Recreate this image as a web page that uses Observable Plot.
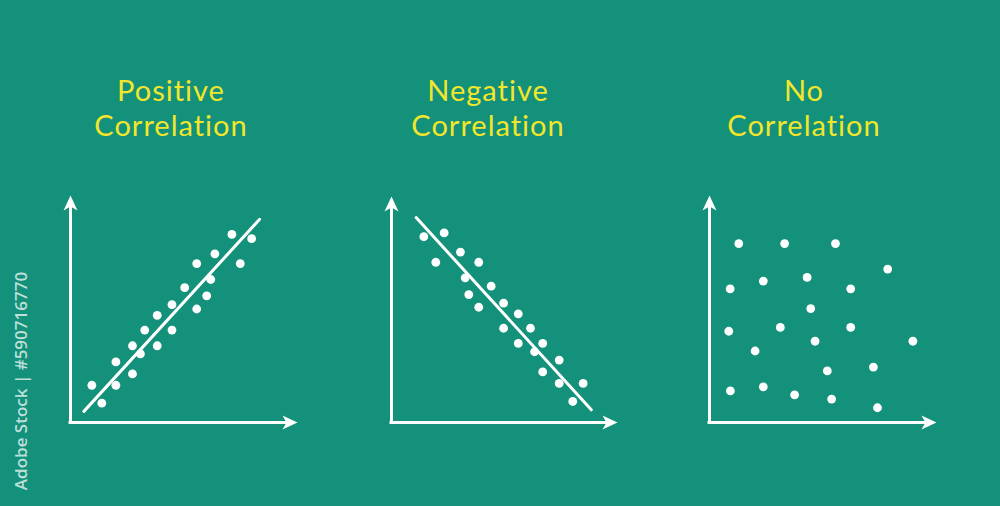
<!DOCTYPE html>
<html>
<head>
<meta charset="utf-8">
<script src="https://cdn.jsdelivr.net/npm/d3@7"></script>
<script src="https://cdn.jsdelivr.net/npm/@observablehq/plot@0.6"></script>
<style>
  html, body { margin: 0; padding: 0; background: #13917a; }
  #wrap { position: relative; width: 1000px; height: 506px; background: #13917a; overflow: hidden; font-family: "Open Sans", sans-serif; }
  .title { position: absolute; top: 72px; transform: translateX(-50%); color: #f2e62b; font-family: Lato, sans-serif; font-size: 29px; letter-spacing: 1px; line-height: 35px; text-align: center; white-space: nowrap; }
  .panel { position: absolute; }
  #side { position: absolute; left: 20px; top: 381px; transform: translate(-50%, -50%) rotate(-90deg); color: rgba(255,255,255,0.72); font-size: 17px; font-weight: 600; white-space: nowrap; }
</style>
</head>
<body>
<div id="wrap"></div>
<script>
// ---- data (axis units 0..100) ----
const titles = [["Positive", "Correlation"], ["Negative", "Correlation"], ["No", "Correlation"]];
const titleCenters = [171, 488, 804];

const positiveX = [9.4, 13.8, 20.0, 20.0, 27.3, 27.3, 30.8, 32.7, 38.2, 38.2, 44.7, 44.7, 50.3, 55.6, 55.6, 60.0, 61.8, 63.6, 71.1, 74.8, 79.8];
const positiveY = [16.4, 8.5, 26.7, 16.4, 33.8, 21.4, 30.2, 40.7, 47.2, 33.8, 51.9, 40.7, 59.4, 70.0, 50.0, 55.8, 63.0, 74.3, 82.9, 70.0, 81.0];
const positiveLineX = [5.9, 83.3];
const positiveLineY = [4.9, 89.5];

const negativeX = [14.3, 23.3, 19.6, 30.5, 38.6, 32.6, 34.2, 44.1, 38.6, 49.6, 56.1, 49.6, 61.5, 56.1, 66.9, 63.3, 74.2, 66.9, 74.2, 84.8, 80.2];
const negativeY = [82.2, 83.9, 70.9, 75.4, 70.9, 64.0, 56.6, 60.3, 51.0, 52.8, 48.1, 41.7, 41.7, 35.0, 35.0, 31.3, 27.6, 22.4, 17.3, 17.3, 9.3];
const negativeLineX = [10.9, 88.4];
const negativeLineY = [90.7, 5.6];

const noneX = [12.9, 33.1, 55.5, 78.5, 9.1, 23.7, 43.0, 62.2, 44.6, 8.5, 31.2, 62.2, 46.5, 89.6, 20.1, 51.9, 72.2, 9.2, 23.7, 37.5, 53.8, 74.0];
const noneY = [78.8, 78.8, 78.8, 67.6, 58.9, 62.3, 63.9, 58.9, 50.2, 40.2, 41.9, 41.9, 35.8, 35.8, 31.5, 22.7, 24.4, 13.9, 15.7, 12.2, 10.3, 6.5];

const sideLabel = "Adobe Stock | #590716770";

// ---- layout ----
const origins = [[70, 421.5], [390.5, 421.5], [708.5, 421.5]];
const axisLen = [227, 226, 227];
const M = 20;

const panels = [
  {x: positiveX, y: positiveY, lx: positiveLineX, ly: positiveLineY},
  {x: negativeX, y: negativeY, lx: negativeLineX, ly: negativeLineY},
  {x: noneX, y: noneY, lx: null, ly: null}
];

// dart-shaped arrow head, tip at the anchor, pointing up
const dart = {
  draw(ctx) {
    ctx.moveTo(0, 0);
    ctx.lineTo(7, 15);
    ctx.lineTo(0, 11);
    ctx.lineTo(-7, 15);
    ctx.closePath();
  }
};

const wrap = document.getElementById("wrap");

titles.forEach((t, i) => {
  const d = document.createElement("div");
  d.className = "title";
  d.style.left = titleCenters[i] + "px";
  d.innerHTML = t[0] + "<br>" + t[1];
  wrap.appendChild(d);
});

panels.forEach((p, i) => {
  const L = axisLen[i];
  const W = L + M + 40, H = L + M + 40;
  const pts = p.x.map((x, j) => ({x, y: p.y[j]}));
  const marks = [
    Plot.ruleY([0], {x1: 0, x2: 96, stroke: "white", strokeWidth: 3, strokeLinecap: "square"}),
    Plot.ruleX([0], {y1: 0, y2: 96, stroke: "white", strokeWidth: 3, strokeLinecap: "square"}),
    Plot.dot([{x: 0, y: 100}], {x: "x", y: "y", symbol: dart, r: 8, fill: "white", stroke: "none"}),
    Plot.dot([{x: 100, y: 0}], {x: "x", y: "y", symbol: dart, r: 8, rotate: 90, fill: "white", stroke: "none"}),
    Plot.dot(pts, {x: "x", y: "y", r: 4.4, fill: "white", stroke: "none"})
  ];
  if (p.lx) {
    const line = p.lx.map((x, j) => ({x, y: p.ly[j]}));
    marks.push(Plot.line(line, {x: "x", y: "y", stroke: "white", strokeWidth: 3}));
  }
  const svg = Plot.plot({
    width: W, height: H,
    marginLeft: M, marginTop: M, marginRight: 40, marginBottom: 40,
    x: {domain: [0, 100], axis: null},
    y: {domain: [0, 100], axis: null},
    style: {background: "transparent", overflow: "visible"},
    marks
  });
  const holder = document.createElement("div");
  holder.className = "panel";
  holder.style.left = (origins[i][0] - M) + "px";
  holder.style.top = (origins[i][1] - L - M) + "px";
  holder.appendChild(svg);
  wrap.appendChild(holder);
});

const side = document.createElement("div");
side.id = "side";
side.textContent = sideLabel;
wrap.appendChild(side);
</script>
</body>
</html>
